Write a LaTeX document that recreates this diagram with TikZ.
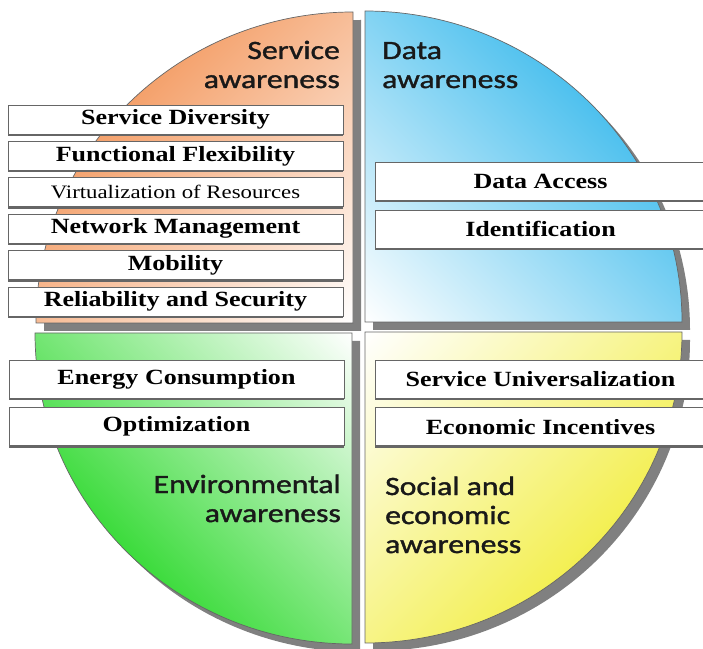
\documentclass[tikz,border=0pt]{standalone}
\usepackage{fontspec}
\usetikzlibrary{positioning,shadows}
\newfontfamily\awarefont[FakeStretch=1.2, FakeBold=1.4]{Carlito}
\newfontfamily\factorfont[FakeStretch=1.2]{Liberation Serif}
\definecolor{svcorange}{HTML}{F4A06A}
\definecolor{datablue}{HTML}{4CC0EE}
\definecolor{envgreen}{HTML}{3ADB3A}
\definecolor{socyellow}{HTML}{F3EF50}
\tikzset{
  quarter/.style={draw=black!60, line width=0.7pt},
  quartershadow/.style={fill=black!50},
  factor/.style={draw=black!60, fill=white, line width=0.6pt, minimum width=335pt,
    minimum height=29pt, inner sep=0pt,
    font=\factorfont\bfseries\fontsize{21.7}{24}\selectfont,
    drop shadow={shadow xshift=0pt, shadow yshift=-2pt, fill=black!60, opacity=1}},
  widefactor/.style={factor, minimum width=331pt, minimum height=38pt},
  aware/.style={inner sep=0pt, text=black!90,
    font=\awarefont\fontsize{26.4}{29}\selectfont}
}

\begin{document}
\begin{tikzpicture}[x=1pt, y=1pt]
  \useasboundingbox (0,0) rectangle (703,648);

  \foreach \cx/\cy/\a in {353/325/90, 365/326/0, 352/315/180, 365/316/270}
    \fill[quartershadow, shift={(8,-8)}] (\cx,\cy) -- ++(\a:317 and 311)
      arc[start angle=\a, delta angle=90, x radius=317, y radius=311] -- cycle;

  \foreach \cx/\cy/\a/\col in {353/325/90/svcorange, 365/326/0/datablue,
      352/315/180/envgreen, 365/316/270/socyellow}{
    \begin{scope}
      \clip (\cx,\cy) -- ++(\a:317 and 311)
        arc[start angle=\a, delta angle=90, x radius=317, y radius=311] -- cycle;
      \begin{scope}[transform canvas={rotate around={\a-45:(\cx,\cy)}}]
        \shade[top color=\col, bottom color=white] (\cx-320,\cy) rectangle (\cx+320,\cy+317);
      \end{scope}
    \end{scope}
    \draw[quarter] (\cx,\cy) -- ++(\a:317 and 311)
      arc[start angle=\a, delta angle=90, x radius=317, y radius=311] -- cycle;
  }

  \node[aware, anchor=base east, align=right] (svc) at (340,560) {Service\\awareness};
  \node[aware, anchor=base west, align=left] (dat) at (382,560) {Data\\awareness};
  \node[aware, anchor=base east, align=right] (env) at (341,126) {Environmental\\awareness};
  \node[aware, anchor=base west, align=left] (soc) at (385,95) {Social and\\economic\\awareness};

  \node[factor] (sd) at (175.5,528.5) {Service Diversity};
  \node[factor, below=6.8pt of sd] (ff) {Functional Flexibility};
  \node[factor, below=6.8pt of ff, font=\factorfont\fontsize{19}{22}\selectfont] (vr) {Virtualization of Resources};
  \node[factor, below=6.8pt of vr] (nm) {Network Management};
  \node[factor, below=6.8pt of nm] (mo) {Mobility};
  \node[factor, below=6.8pt of mo] (rs) {Reliability and Security};

  \node[widefactor] (da) at (540.5,467) {Data Access};
  \node[widefactor, below=9.5pt of da] (id) {Identification};

  \node[widefactor, minimum width=335pt] (ec) at (176.5,269) {Energy Consumption};
  \node[widefactor, minimum width=335pt, below=9pt of ec] (op) {Optimization};

  \node[widefactor] (su) at (540.5,269) {Service Universalization};
  \node[widefactor, below=9pt of su] (ei) {Economic Incentives};
\end{tikzpicture}
\end{document}
